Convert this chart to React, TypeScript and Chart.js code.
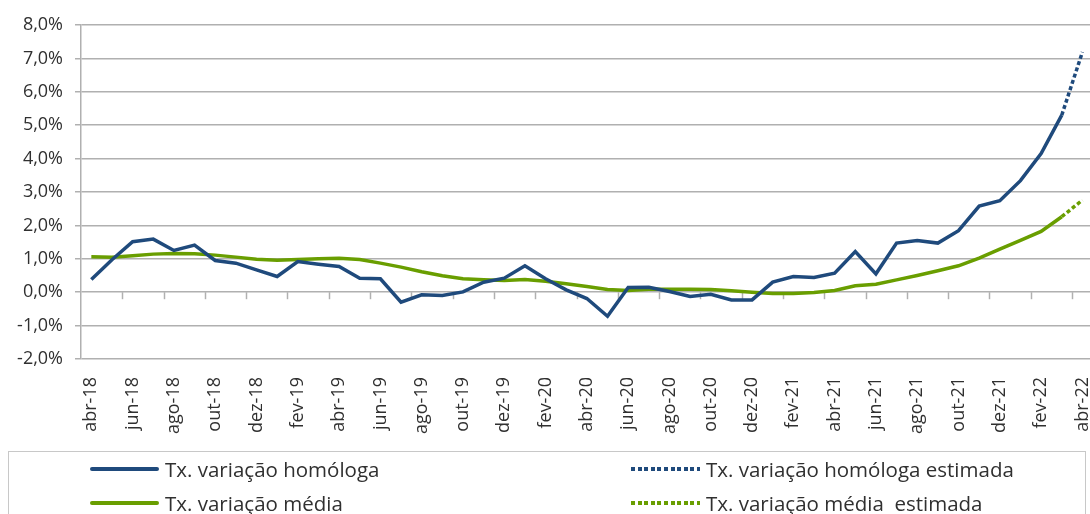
import { useEffect, useRef } from 'react';
import { Chart, registerables } from 'chart.js';

Chart.register(...registerables);

const months = ['abr-18','mai-18','jun-18','jul-18','ago-18','set-18','out-18','nov-18','dez-18','jan-19','fev-19','mar-19','abr-19','mai-19','jun-19','jul-19','ago-19','set-19','out-19','nov-19','dez-19','jan-20','fev-20','mar-20','abr-20','mai-20','jun-20','jul-20','ago-20','set-20','out-20','nov-20','dez-20','jan-21','fev-21','mar-21','abr-21','mai-21','jun-21','jul-21','ago-21','set-21','out-21','nov-21','dez-21','jan-22','fev-22','mar-22','abr-22'];

const homologa = [0.38, 0.97, 1.51, 1.59, 1.25, 1.41, 0.95, 0.87, 0.67, 0.47, 0.92, 0.84, 0.77, 0.42, 0.40, -0.30, -0.08, -0.10, 0.01, 0.30, 0.42, 0.79, 0.40, 0.07, -0.19, -0.72, 0.14, 0.15, 0.02, -0.13, -0.06, -0.23, -0.23, 0.30, 0.47, 0.44, 0.57, 1.22, 0.55, 1.47, 1.55, 1.47, 1.84, 2.58, 2.74, 3.34, 4.15, 5.30, null];

const homologaEstimada = [null, null, null, null, null, null, null, null, null, null, null, null, null, null, null, null, null, null, null, null, null, null, null, null, null, null, null, null, null, null, null, null, null, null, null, null, null, null, null, null, null, null, null, null, null, null, null, 5.30, 7.19];

const media = [1.06, 1.05, 1.09, 1.14, 1.16, 1.15, 1.11, 1.05, 0.99, 0.96, 0.98, 1.00, 1.02, 0.98, 0.87, 0.75, 0.61, 0.49, 0.40, 0.37, 0.35, 0.38, 0.33, 0.25, 0.17, 0.08, 0.05, 0.09, 0.09, 0.09, 0.08, 0.04, 0.00, -0.04, -0.04, -0.01, 0.05, 0.19, 0.24, 0.37, 0.50, 0.64, 0.79, 1.02, 1.29, 1.55, 1.82, 2.26, null];

const mediaEstimada = [null, null, null, null, null, null, null, null, null, null, null, null, null, null, null, null, null, null, null, null, null, null, null, null, null, null, null, null, null, null, null, null, null, null, null, null, null, null, null, null, null, null, null, null, null, null, null, 2.26, 2.76];

const seriesNames = ['Tx. variação homóloga', 'Tx. variação homóloga estimada', 'Tx. variação média', 'Tx. variação média  estimada'];

const BLUE = '#1f4a7c';
const GREEN = '#699e00';
const GRID = '#b0b0b0';
const TEXT = '#303030';
const FONT = "'Open Sans', sans-serif";
const CANVAS_W = 1114;

const zeroTicks = {
  id: 'zeroTicks',
  beforeDatasetsDraw(chart: any) {
    const x = chart.scales.x;
    const y = chart.scales.y;
    const ctx = chart.ctx;
    const y0 = y.getPixelForValue(0);
    const half = (x.getPixelForValue(1) - x.getPixelForValue(0)) / 2;
    ctx.save();
    ctx.strokeStyle = GRID;
    ctx.lineWidth = 1.5;
    for (let i = 2; i < months.length; i += 2) {
      const px = Math.round(x.getPixelForValue(i) - half) + 0.5;
      ctx.beginPath();
      ctx.moveTo(px, y0);
      ctx.lineTo(px, y0 + 7);
      ctx.stroke();
    }
    ctx.restore();
  },
};

function LegendItem({ color, dotted, label, left, top }: any) {
  return (
    <div style={{ position: 'absolute', left, top, display: 'flex', alignItems: 'center', height: 30 }}>
      <div
        style={{
          width: 69,
          height: 4,
          marginRight: 6,
          background: dotted
            ? `repeating-linear-gradient(to right, ${color} 0px, ${color} 4px, transparent 4px, transparent 6.6px)`
            : color,
          borderRadius: dotted ? 0 : 2,
        }}
      />
      <span style={{ fontFamily: FONT, fontSize: 20.5, color: TEXT, whiteSpace: 'pre' }}>{label}</span>
    </div>
  );
}

export default function App() {
  const canvasRef = useRef<HTMLCanvasElement | null>(null);

  useEffect(() => {
    if (!canvasRef.current) return;
    const chart = new Chart(canvasRef.current, {
      type: 'line',
      data: {
        labels: months,
        datasets: [
          { label: seriesNames[0], data: homologa, borderColor: BLUE, borderWidth: 3.5, pointRadius: 0, tension: 0, spanGaps: false },
          { label: seriesNames[1], data: homologaEstimada, borderColor: BLUE, borderWidth: 3.5, borderDash: [4, 2.6], pointRadius: 0, tension: 0 },
          { label: seriesNames[2], data: media, borderColor: GREEN, borderWidth: 3.5, pointRadius: 0, tension: 0 },
          { label: seriesNames[3], data: mediaEstimada, borderColor: GREEN, borderWidth: 3.5, borderDash: [4, 2.6], pointRadius: 0, tension: 0 },
        ],
      },
      options: {
        animation: false,
        responsive: false,
        maintainAspectRatio: false,
        layout: { padding: { top: 25, left: 0, right: 0, bottom: 0 } },
        plugins: { legend: { display: false }, tooltip: { enabled: false }, title: { display: false } },
        scales: {
          x: {
            type: 'category',
            offset: true,
            grid: { display: false },
            border: { display: false },
            ticks: {
              autoSkip: false,
              minRotation: 90,
              maxRotation: 90,
              padding: 10,
              color: TEXT,
              font: { family: FONT, size: 18 },
              callback: (_v: any, i: number) => (i % 2 === 0 ? months[i] : ''),
            },
            afterFit: (scale: any) => { scale.height = 514 - 359; },
          },
          y: {
            min: -2,
            max: 8,
            ticks: {
              stepSize: 1,
              padding: 12,
              color: TEXT,
              font: { family: FONT, size: 18 },
              callback: (v: any) => Number(v).toFixed(1).replace('.', ',') + '%',
            },
            grid: { color: GRID, lineWidth: 1.5, tickLength: 6, drawTicks: true },
            border: { display: true, color: GRID, width: 1.5 },
            afterFit: (scale: any) => { scale.width = 81; },
          },
        },
      },
      plugins: [zeroTicks],
    });
    return () => chart.destroy();
  }, []);

  return (
    <div style={{ position: 'absolute', left: 0, top: 0, width: 1090, height: 514, overflow: 'hidden', background: '#fff' }}>
      <canvas ref={canvasRef} width={CANVAS_W} height={514} style={{ display: 'block', width: CANVAS_W, height: 514 }} />
      <div style={{ position: 'absolute', left: 8, top: 451, width: 1078, height: 80, border: '1.5px solid #c8c8c8', boxSizing: 'border-box' }} />
      <LegendItem color={BLUE} dotted={false} label={seriesNames[0]} left={90} top={454} />
      <LegendItem color={BLUE} dotted={true} label={seriesNames[1]} left={631} top={454} />
      <LegendItem color={GREEN} dotted={false} label={seriesNames[2]} left={90} top={488} />
      <LegendItem color={GREEN} dotted={true} label={seriesNames[3]} left={631} top={488} />
    </div>
  );
}
